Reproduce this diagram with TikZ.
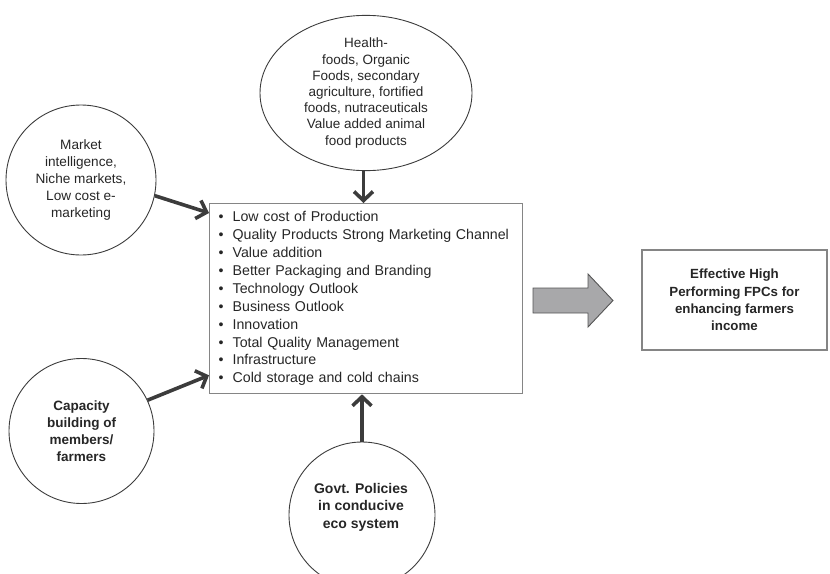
\documentclass[tikz,border=0pt]{standalone}
\usepackage{fontspec}
\setmainfont{Liberation Sans}
\usetikzlibrary{arrows.meta,shapes.geometric}
\definecolor{ink}{HTML}{262626}
\definecolor{edge}{HTML}{3C3C3C}
\definecolor{frame}{HTML}{858585}
\definecolor{arrowfill}{HTML}{A8A8AA}
\definecolor{arrowedge}{HTML}{555555}
\begin{document}
\begin{tikzpicture}[x=1pt,y=-1pt,
  every node/.style={text=ink},
  txt/.style={font=\fontsize{13.6}{17}\selectfont},
  bubble/.style={circle,draw=edge,line width=0.9pt,inner sep=0pt,align=center,txt},
  oval/.style={ellipse,draw=edge,line width=0.9pt,inner sep=0pt,align=center,
    font=\fontsize{13.5}{16.2}\selectfont},
  listbox/.style={rectangle,draw=frame,line width=1.3pt,anchor=north west,
    minimum width=313pt,minimum height=190pt,inner xsep=9pt,inner ysep=0pt,
    text width=295pt,align=left,font=\fontsize{14.2}{17.9}\selectfont},
  goalbox/.style={rectangle,draw=frame,line width=1.3pt,minimum width=185pt,
    minimum height=100pt,align=center,font=\bfseries\fontsize{13.3}{17.3}\selectfont},
  conn/.style={draw=edge,line width=3.6pt,-{Straight Barb[length=9pt,width=19pt]}},
  bigarrow/.style={draw=arrowedge,fill=arrowfill,line width=0.9pt,line join=miter}
]
\useasboundingbox (0,0) rectangle (830,573);
\newcommand{\itm}[1]{\makebox[14pt][l]{\textbullet}#1}

% central list of success factors
\node[listbox] (list) at (209,203) {%
  \itm{Low cost of Production}\\
  \itm{Quality Products Strong Marketing Channel}\\
  \itm{Value addition}\\
  \itm{Better Packaging and Branding}\\
  \itm{Technology Outlook}\\
  \itm{Business Outlook}\\
  \itm{Innovation}\\
  \itm{Total Quality Management}\\
  \itm{Infrastructure}\\
  \itm{Cold storage and cold chains}};

% input bubbles
\node[oval,minimum width=212pt,minimum height=150pt] (crops) at (366,93)
  {Health-\\foods, Organic\\Foods, secondary\\agriculture, fortified\\foods, nutraceuticals\\Value added animal\\food products};
\node[bubble,minimum size=150pt] (market) at (81,180)
  {Market\\intelligence,\\Niche markets,\\Low cost e-\\marketing};
\node[bubble,minimum size=145pt,font=\bfseries\fontsize{13.5}{17}\selectfont] (capacity) at (81.5,431)
  {Capacity\\building of\\members/\\farmers};
\node[bubble,minimum size=146pt] (govt) at (362,515) {};
\node[align=center,font=\bfseries\fontsize{14}{17.5}\selectfont] (govttext) at (361,507)
  {Govt. Policies\\in conducive\\eco system};

% outcome
\node[goalbox] (goal) at (734.5,300)
  {Effective High\\Performing FPCs for\\enhancing farmers\\income};

% connectors into the list
\draw[conn] ([xshift=-2.5pt]crops.south) -- ([xshift=-2.5pt]crops.south |- list.north);
\draw[conn] (market.-12) -- ([yshift=-10pt]list.north west);
\draw[conn] (capacity.25) -- ([yshift=19pt]list.south west);
\draw[conn] (govt.north) -- (govt.north |- list.south);

% block arrow towards the outcome
\draw[bigarrow] (533,288) -- (588,288) -- (588,274) -- (613,300.5)
  -- (588,327) -- (588,313) -- (533,313) -- cycle;
\end{tikzpicture}
\end{document}
